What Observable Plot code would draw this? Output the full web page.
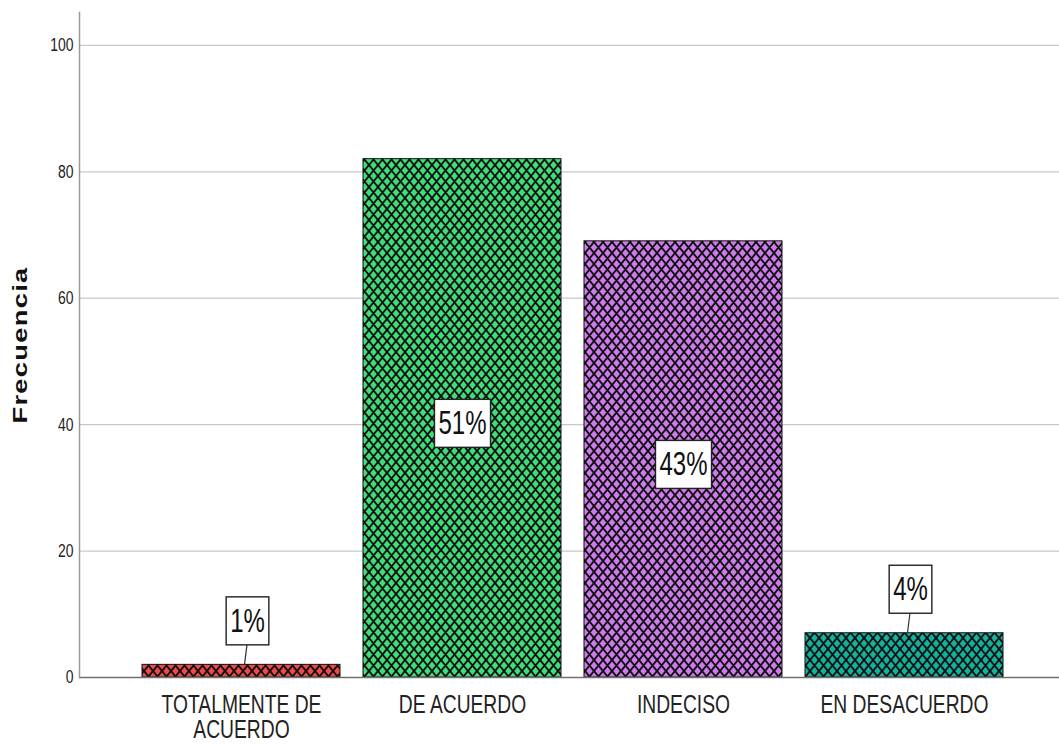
<!DOCTYPE html>
<html><head><meta charset="utf-8">
<script src="https://cdn.jsdelivr.net/npm/d3@7"></script>
<script src="https://cdn.jsdelivr.net/npm/@observablehq/plot@0.6"></script>
<style>
html,body{margin:0;padding:0;background:#fff;}
</style></head><body><div id="chart"></div>
<script>
// ---- data ----
const categories = ["TOTALMENTE DE ACUERDO", "DE ACUERDO", "INDECISO", "EN DESACUERDO"];
const axisLabels = ["TOTALMENTE DE\nACUERDO", "DE ACUERDO", "INDECISO", "EN DESACUERDO"];
const frequencies = [2, 82, 69, 7];
const percentLabels = ["1%", "51%", "43%", "4%"];
const barColors = ["#ee4a4a", "#3ddf7b", "#cf7bed", "#10b39e"];
const yTicks = [0, 20, 40, 60, 80, 100];
const yTitle = "Frecuencia";

const data = categories.map((c, i) => ({
  cat: c, value: frequencies[i], label: percentLabels[i],
  pat: `url(#pat${i})`, inside: frequencies[i] > 20
}));

const font = `"Liberation Sans", Arial, sans-serif`;
const aboveDy = -44, aboveDx = 6, insideDy = 5;

const chart = Plot.plot({
  width: 1059, height: 747,
  marginTop: 12, marginBottom: 70, marginLeft: 79, marginRight: 0,
  style: {fontFamily: font, background: "#fff", color: "#222"},
  x: {domain: categories, range: [140, 1004.5], paddingInner: 0.104, paddingOuter: 0, axis: null},
  y: {domain: [0, 105.2], axis: null},
  color: {type: "identity"},
  marks: [
    Plot.ruleY(yTicks.filter(d => d > 0), {stroke: "#c8c8c8", strokeWidth: 1.3}),
    Plot.barY(data, {x: "cat", y: "value", fill: "pat", stroke: "#111", strokeWidth: 1}),
    Plot.ruleY([0], {stroke: "#707070", strokeWidth: 1.3}),
    Plot.frame({anchor: "left", stroke: "#9a9a9a", strokeWidth: 1.5}),
    Plot.axisY({ticks: yTicks, tickSize: 0, tickPadding: 6, fontSize: 17, label: null, fill: "#222"}),
    Plot.axisX({tickSize: 0, tickPadding: 17, fontSize: 23.5, lineHeight: 1.0, label: null, fill: "#222",
      tickFormat: d => axisLabels[categories.indexOf(d)]}),
    Plot.text([yTitle], {frameAnchor: "left", dx: -59, rotate: -90, textAnchor: "middle", lineAnchor: "middle",
      fontSize: 21, fontWeight: "bold", fill: "#111"}),
    Plot.text(data.filter(d => d.inside), {x: "cat", y: d => d.value / 2, text: "label", dy: insideDy,
      fontSize: 30, fill: "#111", lineAnchor: "middle"}),
    Plot.text(data.filter(d => !d.inside), {x: "cat", y: "value", text: "label", dy: aboveDy, dx: aboveDx,
      fontSize: 30, fill: "#111", lineAnchor: "middle"})
  ]
});

document.getElementById("chart").appendChild(chart);

// ---- patterns (crosshatch) ----
const ns = "http://www.w3.org/2000/svg";
const defs = document.createElementNS(ns, "defs");
const pw = 9, ph = 11;
barColors.forEach((col, i) => {
  const p = document.createElementNS(ns, "pattern");
  p.setAttribute("id", `pat${i}`);
  p.setAttribute("patternUnits", "userSpaceOnUse");
  p.setAttribute("width", pw); p.setAttribute("height", ph);
  const r = document.createElementNS(ns, "rect");
  r.setAttribute("width", pw); r.setAttribute("height", ph); r.setAttribute("fill", col);
  p.appendChild(r);
  const path = document.createElementNS(ns, "path");
  path.setAttribute("d",
    `M${-pw},${-ph}L${2*pw},${2*ph}M0,${-ph}L${2*pw},${ph}M${-pw},0L${pw},${2*ph}` +
    `M${2*pw},${-ph}L${-pw},${2*ph}M${pw},${-ph}L${-pw},${ph}M${2*pw},0L0,${2*ph}`);
  path.setAttribute("stroke", "#111"); path.setAttribute("stroke-width", 1.9); path.setAttribute("fill", "none");
  p.appendChild(path);
  defs.appendChild(p);
});
chart.insertBefore(defs, chart.firstChild);

// ---- text stretching (narrow look) ----
function stretch(t, sx, sy) {
  const tr = t.getAttribute("transform");
  if (tr) t.setAttribute("transform", `${tr} scale(${sx},${sy})`);
  else {
    const x = +t.getAttribute("x") || 0, y = +t.getAttribute("y") || 0;
    t.setAttribute("transform", `translate(${x},${y}) scale(${sx},${sy}) translate(${-x},${-y})`);
  }
}

// ---- label boxes and leader lines ----
const boxH = 48, padX = 4, pctSx = 0.8, pctSy = 1.12;
chart.querySelectorAll("text").forEach(t => {
  const s = t.textContent.trim();
  if (s === yTitle) { t.style.letterSpacing = "1px"; stretch(t, 1.3, 1); return; }
  if (percentLabels.includes(s)) {
    const bb = t.getBBox();
    const w = bb.width * pctSx + 2 * padX;
    const cx = (bb.x + bb.width / 2) * pctSx;
    const rect = document.createElementNS(ns, "rect");
    rect.setAttribute("x", cx - w / 2);
    rect.setAttribute("y", -boxH / 2);
    rect.setAttribute("width", w); rect.setAttribute("height", boxH);
    rect.setAttribute("fill", "#fff"); rect.setAttribute("stroke", "#222"); rect.setAttribute("stroke-width", 1.4);
    if (t.getAttribute("transform")) rect.setAttribute("transform", t.getAttribute("transform"));
    t.parentNode.insertBefore(rect, t);
    stretch(t, pctSx, pctSy);
    return;
  }
  if (yTicks.map(String).includes(s)) { stretch(t, 0.82, 1.1); return; }
  const flat = s.replace(/\s+/g, "");
  if (axisLabels.some(a => a.replace(/\s+/g, "") === flat)) stretch(t, 0.82, 1.08);
});
const xs = chart.scale("x"), ys = chart.scale("y");
data.filter(d => !d.inside).forEach(d => {
  const cx = xs.apply(d.cat) + xs.bandwidth / 2;
  const y0 = ys.apply(d.value);
  const line = document.createElementNS(ns, "line");
  line.setAttribute("x1", cx + 3.5); line.setAttribute("y1", y0);
  line.setAttribute("x2", cx + aboveDx); line.setAttribute("y2", y0 + aboveDy + boxH / 2);
  line.setAttribute("stroke", "#333"); line.setAttribute("stroke-width", 1.2);
  chart.appendChild(line);
});
</script>
</body></html>
